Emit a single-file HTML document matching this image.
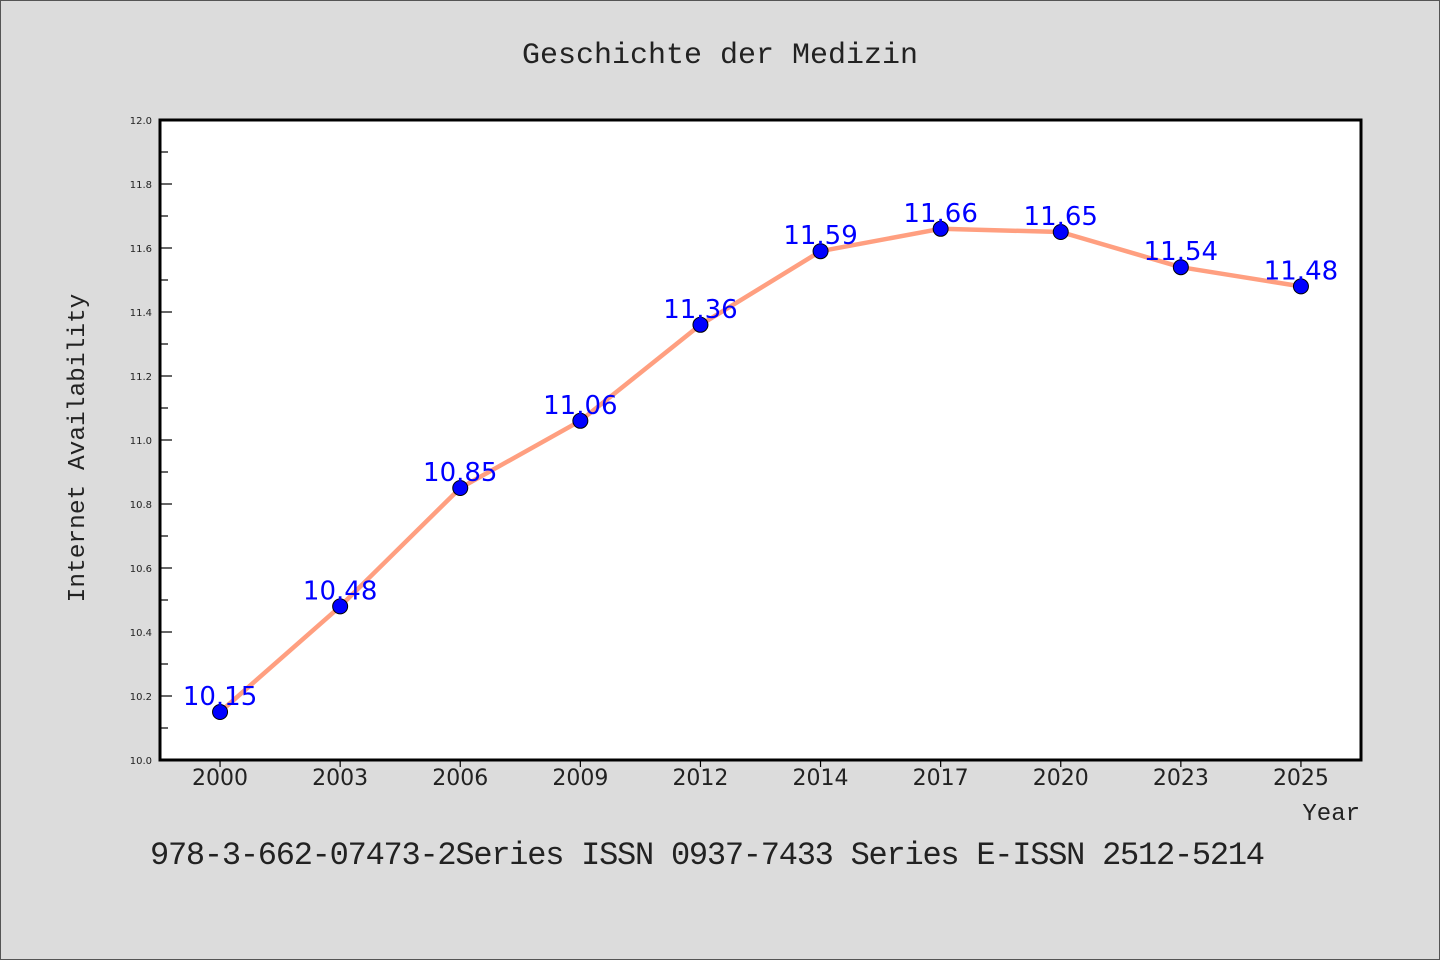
<!DOCTYPE html>
<html><head><meta charset="utf-8"><style>
body{margin:0;background:#dcdcdc;}
svg{display:block}
</style></head><body>
<svg width="1440" height="960" xmlns="http://www.w3.org/2000/svg">
<rect x="0.5" y="0.5" width="1439" height="959" fill="#dcdcdc" stroke="#555"/>
<text x="720" y="63" text-anchor="middle" font-family="Liberation Mono, monospace" font-size="30" fill="#222">Geschichte der Medizin</text>
<rect x="160" y="120" width="1201" height="640" fill="#fff"/>
<g id="axes"></g>
<g id="marks"></g>
<rect x="160" y="120" width="1201" height="640" fill="none" stroke="#000" stroke-width="3"/>
<text transform="translate(84,448) rotate(-90)" text-anchor="middle" font-family="Liberation Mono, monospace" font-size="24.5" fill="#222">Internet Availability</text>
<text x="1360" y="820" text-anchor="end" font-family="Liberation Mono, monospace" font-size="24" fill="#222">Year</text>
<text x="150" y="864" font-family="Liberation Mono, monospace" font-size="32" fill="#222" textLength="1115">978-3-662-07473-2Series ISSN 0937-7433 Series E-ISSN 2512-5214</text>
</svg>
<script>
const categories=["2000","2003","2006","2009","2012","2014","2017","2020","2023","2025"];
const values=[10.15,10.48,10.85,11.06,11.36,11.59,11.66,11.65,11.54,11.48];
const yTicks=["10.0","10.2","10.4","10.6","10.8","11.0","11.2","11.4","11.6","11.8","12.0"];
const NS="http://www.w3.org/2000/svg";
const L=160,R=1361,T=120,B=760,yMin=10,yMax=12;
const band=(R-L)/categories.length;
function xs(i){return L+band*(i+0.5);}
function ys(v){return B-(v-yMin)/(yMax-yMin)*(B-T);}
function mk(tag,a,p){const e=document.createElementNS(NS,tag);for(const k in a)e.setAttribute(k,a[k]);p.appendChild(e);return e;}
const ax=document.getElementById('axes'),mg=document.getElementById('marks');
yTicks.forEach((t,i)=>{const v=parseFloat(t),y=ys(v);
 const l=mk('line',{x1:L,x2:L+12,y1:y,y2:y,stroke:'#000','stroke-width':1.2},ax);
 
 
 if(i<yTicks.length-1){const ym=ys(v+0.1);const m=mk('line',{x1:L,x2:L+8,y1:ym,y2:ym,stroke:'#000','stroke-width':1.2},ax);
 
 }
 const tx=mk('text',{x:L-8,y:y+4,'text-anchor':'end','font-family':'DejaVu Sans, sans-serif','font-size':10,fill:'#222'},ax);tx.textContent=t;
 
 
});
categories.forEach((c,i)=>{const x=xs(i);
 const l=mk('line',{x1:x,x2:x,y1:B,y2:B+7,stroke:'#000','stroke-width':1.2},ax);
 
 
 const tx=mk('text',{x:x,y:B+25,'text-anchor':'middle','font-family':'DejaVu Sans, sans-serif','font-size':22,fill:'#222'},ax);tx.textContent=c;
 
 
});
const pl=mk('polyline',{points:values.map((v,i)=>xs(i)+','+ys(v)).join(' '),fill:'none',stroke:'#ff9f80','stroke-width':4.5,'stroke-linejoin':'round'},mg);


values.forEach((v,i)=>{
 const c=mk('circle',{cx:xs(i),cy:ys(v),r:7.5,fill:'#0000ff',stroke:'#000','stroke-width':1},mg);
 
 
 const t=mk('text',{x:xs(i),y:ys(v)-7,'text-anchor':'middle','font-family':'DejaVu Sans, sans-serif','font-size':26,fill:'#0000ff'},mg);t.textContent=v.toFixed(2);
 
 
});
</script>
</body></html>
